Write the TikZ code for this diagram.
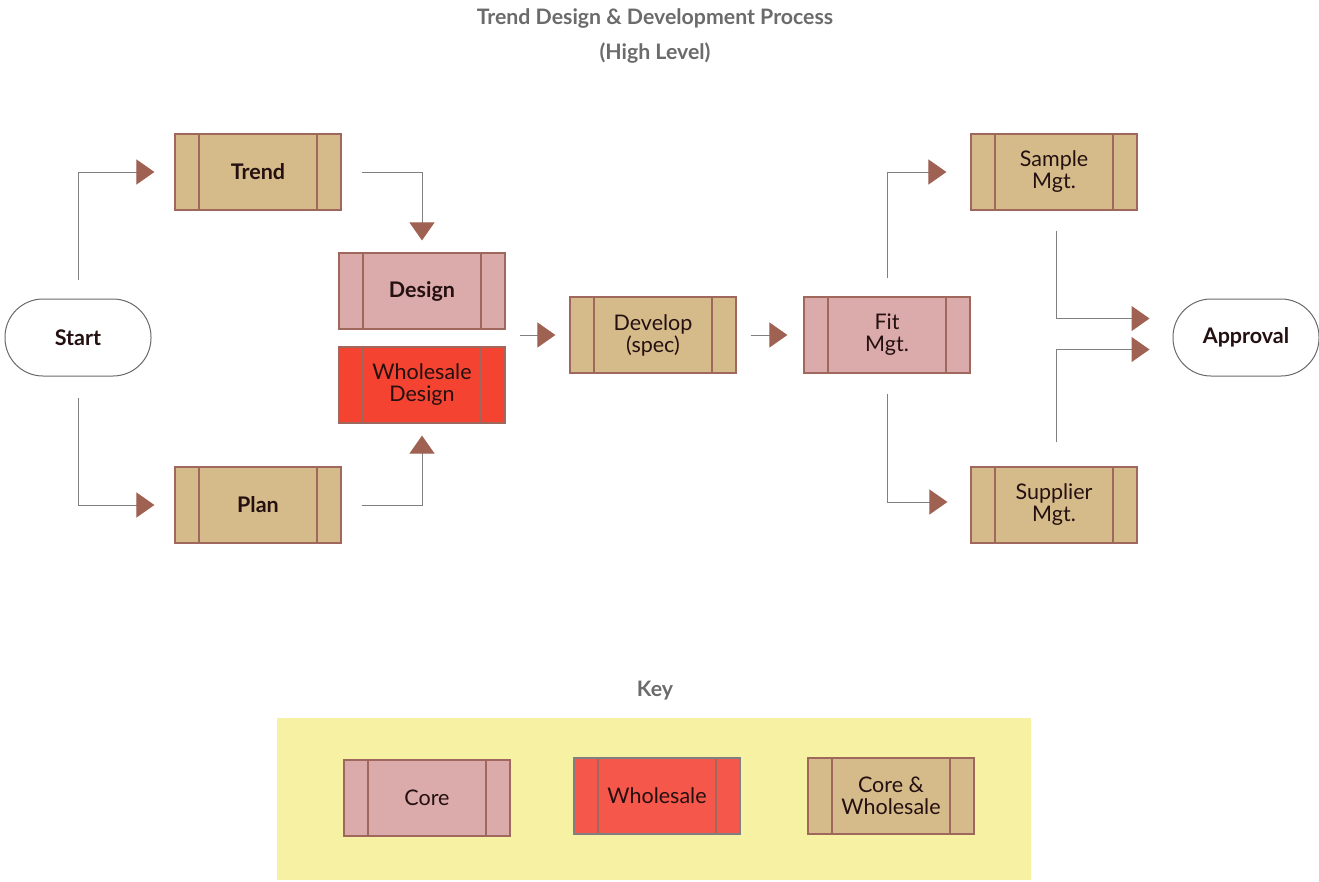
\documentclass[tikz,border=0pt]{standalone}
\usepackage{fontspec}
\setmainfont{Lato}
\usetikzlibrary{arrows.meta,calc}
\definecolor{tanc}{HTML}{D5BB8A}
\definecolor{pinkc}{HTML}{DBAAAA}
\definecolor{wsred}{HTML}{F44330}
\definecolor{keyred}{HTML}{F5574A}
\definecolor{borderc}{HTML}{A0685D}
\definecolor{arrowc}{HTML}{9E6152}
\definecolor{linec}{HTML}{808080}
\definecolor{titlec}{HTML}{6B6B6B}
\definecolor{textc}{HTML}{241010}
\definecolor{keybg}{HTML}{F7F1A3}
\definecolor{ovalc}{HTML}{6A6A6A}
\tikzset{
  proc/.style={rectangle, minimum width=166pt, minimum height=76pt, draw=borderc,
    line width=1.2pt, text=textc, align=center, inner sep=2pt,
    font=\fontsize{21.5}{22}\selectfont,
    path picture={
      \draw[borderc, line width=1.2pt]
        ([xshift=24pt]path picture bounding box.north west) -- ([xshift=24pt]path picture bounding box.south west)
        ([xshift=-24pt]path picture bounding box.north east) -- ([xshift=-24pt]path picture bounding box.south east);
    }},
  boldtxt/.style={font=\fontsize{21.5}{22}\selectfont\bfseries},
  term/.style={rectangle, rounded corners=38pt, minimum width=146pt, minimum height=77pt,
    draw=ovalc, line width=1pt, fill=white, text=textc, font=\fontsize{21.5}{22}\selectfont\bfseries},
  conn/.style={draw=linec, line width=1pt, -{Triangle[length=18pt, width=25pt, color=arrowc]}},
  ttl/.style={text=titlec, font=\fontsize{21.3}{24}\selectfont\bfseries}
}
\begin{document}
\begin{tikzpicture}[x=1pt, y=-1pt]
\useasboundingbox (0,0) rectangle (1319,881);
% title
\node[ttl] (title1) at (655,19) {Trend Design \& Development Process};
\node[ttl] (title2) at (655,53) {(High Level)};
% nodes
\node[term] (start) at (78,337.5) {Start};
\node[term] (approval) at (1246,337.5) {Approval};
\node[proc, fill=tanc, boldtxt] (trend) at (258,172) {Trend};
\node[proc, fill=pinkc, boldtxt] (design) at (422,291) {Design};
\node[proc, fill=wsred] (wdesign) at (422,385) {Wholesale\\Design};
\node[proc, fill=tanc, boldtxt] (plan) at (258,505) {Plan};
\node[proc, fill=tanc] (develop) at (653,335) {Develop\\(spec)};
\node[proc, fill=pinkc] (fit) at (887,335) {Fit\\Mgt.};
\node[proc, fill=tanc] (sample) at (1054,172) {Sample\\Mgt.};
\node[proc, fill=tanc] (supplier) at (1054,505) {Supplier\\Mgt.};
% connectors
\draw[conn, shorten <=19pt, shorten >=20pt] (start.north) |- (trend.west);
\draw[conn, shorten <=21pt, shorten >=20pt] (start.south) |- (plan.west);
\draw[conn, shorten <=20pt, shorten >=12pt] (trend.east) -| (design.north);
\draw[conn, shorten <=20pt, shorten >=12pt] (plan.east) -| (wdesign.south);
\draw[conn, shorten <=14pt, shorten >=14pt] (develop.west -| design.east) -- (develop.west);
\draw[conn, shorten <=14pt, shorten >=16pt] (develop.east) -- (fit.west);
\draw[conn, shorten <=18pt, shorten >=24pt] (fit.north) |- (sample.west);
\draw[conn, shorten <=20pt, shorten >=23pt] (fit.south) |- ([yshift=3pt]supplier.west);
\draw[conn, shorten <=20pt, shorten >=23pt] ([xshift=2pt]sample.south) |- ([yshift=19pt]approval.west);
\draw[conn, shorten <=24pt, shorten >=23pt] ([xshift=2pt]supplier.north) |- ([yshift=-12pt]approval.west);
% key
\node[ttl] (keytitle) at (655,691) {Key};
\node[rectangle, fill=keybg, minimum width=754pt, minimum height=162pt, inner sep=0pt] (keybox) at (654,799) {};
\node[proc, fill=pinkc] (kcore) at (427,798) {Core};
\node[proc, fill=keyred, draw=linec] (kws) at (657,796) {Wholesale};
\node[proc, fill=tanc] (kboth) at (891,796) {Core \&\\Wholesale};
\end{tikzpicture}
\end{document}
